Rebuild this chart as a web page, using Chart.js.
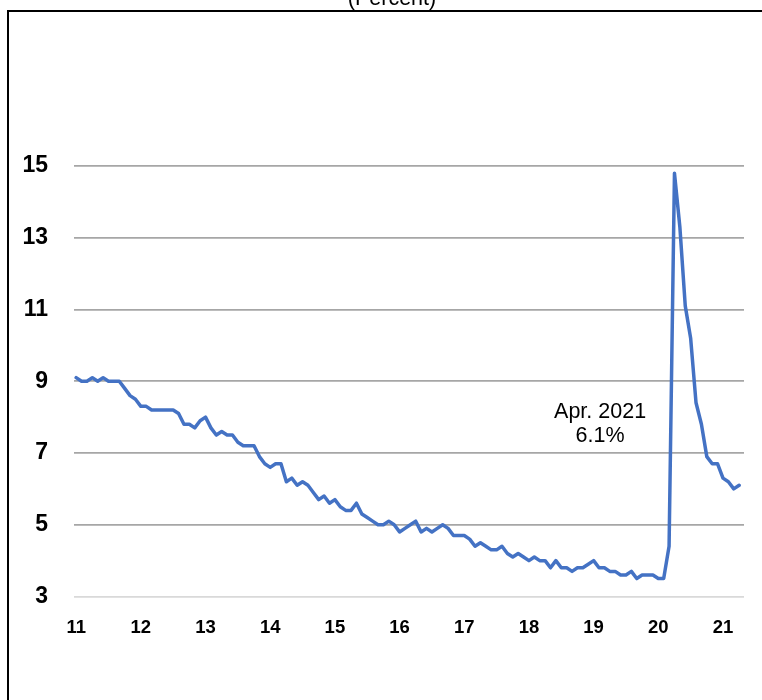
<!DOCTYPE html>
<html>
<head>
<meta charset="utf-8">
<script src="https://cdn.jsdelivr.net/npm/chart.js@4.4.1/dist/chart.umd.min.js"></script>
<style>
  html, body { margin: 0; padding: 0; background: #fff; overflow: hidden; }
  #wrap { position: relative; width: 762px; height: 700px; }
  #frame { position: absolute; left: 7px; top: 10px; width: 820px; height: 760px; border: 2px solid #000; box-sizing: border-box; }
  #c { position: absolute; left: 0; top: 0; }
</style>
</head>
<body>
<div id="wrap">
  <div id="frame"></div>
  <canvas id="c" width="762" height="700"></canvas>
</div>
<script>
// Civilian unemployment rate, monthly, Jan. 2011 - Apr. 2021 (percent)
const yearLabels = ["11", "12", "13", "14", "15", "16", "17", "18", "19", "20", "21"];
const rate2011 = [9.1, 9.0, 9.0, 9.1, 9.0, 9.1, 9.0, 9.0, 9.0, 8.8, 8.6, 8.5];
const rate2012 = [8.3, 8.3, 8.2, 8.2, 8.2, 8.2, 8.2, 8.1, 7.8, 7.8, 7.7, 7.9];
const rate2013 = [8.0, 7.7, 7.5, 7.6, 7.5, 7.5, 7.3, 7.2, 7.2, 7.2, 6.9, 6.7];
const rate2014 = [6.6, 6.7, 6.7, 6.2, 6.3, 6.1, 6.2, 6.1, 5.9, 5.7, 5.8, 5.6];
const rate2015 = [5.7, 5.5, 5.4, 5.4, 5.6, 5.3, 5.2, 5.1, 5.0, 5.0, 5.1, 5.0];
const rate2016 = [4.8, 4.9, 5.0, 5.1, 4.8, 4.9, 4.8, 4.9, 5.0, 4.9, 4.7, 4.7];
const rate2017 = [4.7, 4.6, 4.4, 4.5, 4.4, 4.3, 4.3, 4.4, 4.2, 4.1, 4.2, 4.1];
const rate2018 = [4.0, 4.1, 4.0, 4.0, 3.8, 4.0, 3.8, 3.8, 3.7, 3.8, 3.8, 3.9];
const rate2019 = [4.0, 3.8, 3.8, 3.7, 3.7, 3.6, 3.6, 3.7, 3.5, 3.6, 3.6, 3.6];
const rate2020 = [3.5, 3.5, 4.4, 14.8, 13.3, 11.1, 10.2, 8.4, 7.8, 6.9, 6.7, 6.7];
const rate2021 = [6.3, 6.2, 6.0, 6.1];
const yTicks = [3, 5, 7, 9, 11, 13, 15];
const unitsLabel = "(Percent)";
const latestLabel = "Apr. 2021";

const rates = [].concat(rate2011, rate2012, rate2013, rate2014, rate2015, rate2016,
                        rate2017, rate2018, rate2019, rate2020, rate2021);
const points = rates.map((v, i) => ({ x: i, y: v }));
const latest = rates[rates.length - 1];

const labelFont = "'Liberation Sans', Arial, sans-serif";

// Units caption above the frame and the note on the latest reading
const notes = {
  id: 'notes',
  afterDatasetsDraw(chart) {
    const ctx = chart.ctx;
    const xs = chart.scales.x, ys = chart.scales.y;
    ctx.save();
    ctx.fillStyle = '#000';
    ctx.textAlign = 'center';
    ctx.textBaseline = 'alphabetic';
    ctx.font = "21.5px " + labelFont;
    ctx.fillText(unitsLabel, 392, 5);
    const cx = xs.getPixelForValue(97.2);
    const y1 = ys.getPixelForValue(7.97);
    ctx.fillText(latestLabel, cx, y1);
    ctx.fillText(latest.toFixed(1) + '%', cx, y1 + 24);
    ctx.restore();
  }
};

new Chart(document.getElementById('c'), {
  type: 'line',
  data: {
    datasets: [{
      data: points,
      borderColor: '#4472C4',
      borderWidth: 3.5,
      pointRadius: 0,
      tension: 0,
      fill: false,
      borderJoinStyle: 'round',
      borderCapStyle: 'round'
    }]
  },
  options: {
    responsive: false,
    animation: false,
    devicePixelRatio: 1,
    layout: { padding: { left: 0, right: 18, top: 166, bottom: 63.5 } },
    plugins: { legend: { display: false }, tooltip: { enabled: false }, title: { display: false } },
    scales: {
      x: {
        type: 'linear',
        min: -0.4,
        max: 123.9,
        afterFit(s) { s.height = 40; },
        afterBuildTicks(s) { s.ticks = yearLabels.map((_, i) => ({ value: i * 12 })); },
        ticks: {
          autoSkip: false,
          maxRotation: 0,
          padding: 20,
          color: '#000',
          font: { family: labelFont, size: 18.5, weight: 'bold' },
          callback: (v) => yearLabels[Math.round(v / 12)]
        },
        grid: { display: false, drawTicks: false },
        border: { display: false }
      },
      y: {
        min: 3,
        max: 15,
        afterFit(s) { s.width = 74; },
        afterBuildTicks(s) { s.ticks = yTicks.map(v => ({ value: v })); },
        ticks: {
          padding: 26,
          color: '#000',
          font: { family: labelFont, size: 23, weight: 'bold' }
        },
        grid: {
          drawTicks: false,
          lineWidth: 1.8,
          color: (c) => (c.tick && c.tick.value === 3 ? '#D9D9D9' : '#A6A6A6')
        },
        border: { display: false }
      }
    }
  },
  plugins: [notes]
});
</script>
</body>
</html>
